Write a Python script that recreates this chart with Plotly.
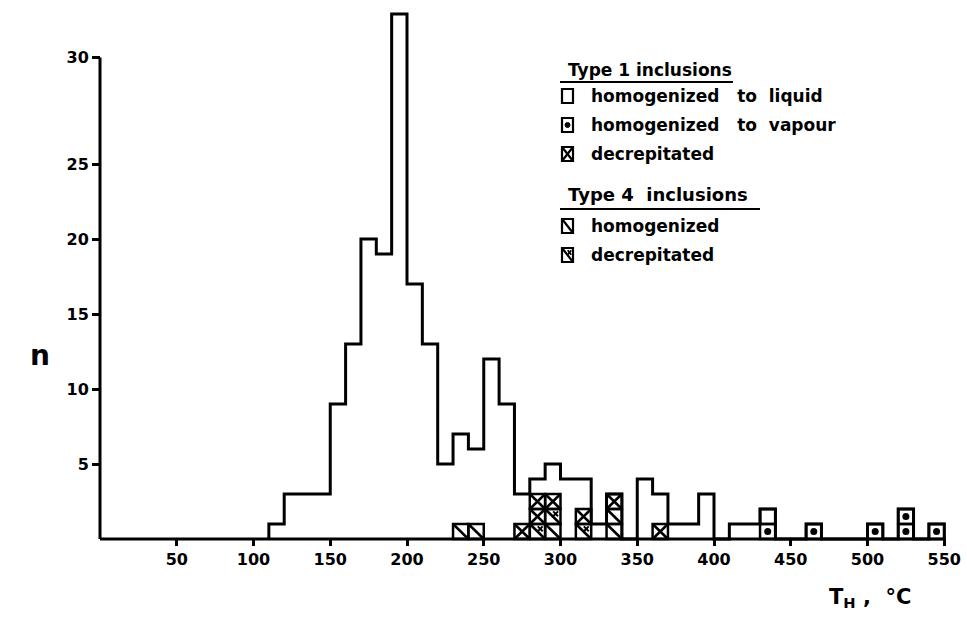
import plotly.graph_objects as go

# ---------------- data ----------------
bin_left = [110, 120, 130, 140, 150, 160, 170, 180, 190, 200, 210, 220, 230, 240,
            250, 260, 270, 280, 290, 300, 310, 320, 330, 340, 350, 360, 370, 380,
            390, 400, 410, 420, 430, 440, 450, 460, 470, 480, 490, 500, 510, 520,
            530, 540]
counts = [1, 3, 3, 3, 9, 13, 20, 19, 35, 17, 13, 5, 7, 6,
          12, 9, 3, 4, 5, 4, 4, 1, 3, 0, 4, 3, 1, 1,
          3, 0, 1, 1, 2, 0, 0, 1, 0, 0, 0, 1, 0, 2,
          0, 1]
bin_width = 10

x_tick_vals = [50, 100, 150, 200, 250, 300, 350, 400, 450, 500, 550]
x_tick_text = ["50", "100", "150", "200", "250", "300", "350", "400", "450", "500", "550"]
y_tick_text = ["5", "10", "15", "20", "25", "30"]
y_tick_pos = [5, 10, 15, 20, 25, 32.1]   # hand-drawn "30" mark sits high

# individual inclusions drawn as boxes (bin left edge, stack level)
t1_liquid_box_bin = [430]
t1_liquid_box_lvl = [1]
t1_vapour_bin = [430, 460, 500, 520, 520, 540]
t1_vapour_lvl = [0, 0, 0, 0, 1, 0]
t1_decrep_bin = [270, 280, 280, 290, 310, 330, 360]
t1_decrep_lvl = [0, 1, 2, 2, 1, 2, 0]
t4_homog_bin = [230, 240, 290, 330, 330]
t4_homog_lvl = [0, 0, 0, 0, 1]
t4_decrep_bin = [280, 290, 310]
t4_decrep_lvl = [0, 1, 0]

legend_head1 = "Type 1 inclusions"
legend_head2 = "Type\u00a04\u00a0\u00a0inclusions"
legend_items = [("liq", "homogenized\u00a0\u00a0\u00a0to\u00a0\u00a0liquid"),
                ("vap", "homogenized\u00a0\u00a0\u00a0to\u00a0\u00a0vapour"),
                ("dec1", "decrepitated"),
                ("hom4", "homogenized"),
                ("dec4", "decrepitated")]

# ---------------- geometry ----------------
W, H = 967, 628
ML, MR, MT, MB = 92, 15, 5, 59
PW, PH = W - ML - MR, H - MT - MB
KX = 1.535      # px per degree
KY = 15.0       # px per count
AX_X, AX_Y = 100, 539   # pixel position of the origin
x0 = -(AX_X - ML) / KX
x1 = x0 + PW / KX
y0 = -((H - MB) - AX_Y) / KY
y1 = y0 + PH / KY


def px_x(p):
    return (p - ML) / PW


def px_y(p):
    return ((H - MB) - p) / PH


INK = "black"
fig = go.Figure()

# histogram outline
ox = [bin_left[0]] + bin_left + [bin_left[-1] + bin_width, bin_left[-1] + bin_width]
oy = [0] + counts + [counts[-1], 0]
fig.add_trace(go.Scatter(x=ox, y=oy, mode="lines", line=dict(color=INK, width=3, shape="hv"),
                         hoverinfo="skip", showlegend=False))

# axis lines
fig.add_trace(go.Scatter(x=[0, 0], y=[0, y_tick_pos[-1]], mode="lines",
                         line=dict(color=INK, width=3), hoverinfo="skip", showlegend=False))
fig.add_trace(go.Scatter(x=[0, x_tick_vals[-1] + 1], y=[0, 0], mode="lines",
                         line=dict(color=INK, width=3), hoverinfo="skip", showlegend=False))

shapes = []
LW = 2.5


def symbol_shapes(kind, xa, xb, ya, yb, xref, yref, lw=LW):
    out = [dict(type="rect", xref=xref, yref=yref, x0=xa, x1=xb, y0=ya, y1=yb,
                line=dict(color=INK, width=lw), layer="above")]
    dx, dy = (xb - xa), (yb - ya)
    if kind == "dec1":
        out.append(dict(type="line", xref=xref, yref=yref, x0=xa, y0=yb, x1=xb, y1=ya,
                        line=dict(color=INK, width=lw)))
        out.append(dict(type="line", xref=xref, yref=yref, x0=xa, y0=ya, x1=xb, y1=yb,
                        line=dict(color=INK, width=lw)))
    elif kind == "hom4":
        out.append(dict(type="line", xref=xref, yref=yref, x0=xa, y0=yb, x1=xb, y1=ya,
                        line=dict(color=INK, width=lw)))
    elif kind == "dec4":
        out.append(dict(type="line", xref=xref, yref=yref, x0=xa, y0=yb, x1=xb, y1=ya,
                        line=dict(color=INK, width=lw)))
        cx, cy = xa + 0.68 * dx, ya + 0.68 * dy
        hx, hy = 0.16 * dx, 0.16 * dy
        out.append(dict(type="line", xref=xref, yref=yref, x0=cx - hx, y0=cy - hy,
                        x1=cx + hx, y1=cy + hy, line=dict(color=INK, width=lw * 0.8)))
        out.append(dict(type="line", xref=xref, yref=yref, x0=cx - hx, y0=cy + hy,
                        x1=cx + hx, y1=cy - hy, line=dict(color=INK, width=lw * 0.8)))
    return out


dot_x, dot_y = [], []
groups = [("liq", t1_liquid_box_bin, t1_liquid_box_lvl),
          ("vap", t1_vapour_bin, t1_vapour_lvl),
          ("dec1", t1_decrep_bin, t1_decrep_lvl),
          ("hom4", t4_homog_bin, t4_homog_lvl),
          ("dec4", t4_decrep_bin, t4_decrep_lvl)]
for kind, bins, lvls in groups:
    for b, lv in zip(bins, lvls):
        shapes += symbol_shapes(kind, b, b + bin_width, lv, lv + 1, "x", "y")
        if kind == "vap":
            dot_x.append(b + bin_width / 2)
            dot_y.append(lv + 0.5)

fig.add_trace(go.Scatter(x=dot_x, y=dot_y, mode="markers",
                         marker=dict(color=INK, size=7), hoverinfo="skip", showlegend=False))

# ---------------- legend (hand-drawn key) ----------------
FONT = "DejaVu Sans"
annotations = []
head_rows = [(legend_head1, 70, 82, 733, 17), (legend_head2, 194, 209, 760, 18)]
for text, yc, yu, xend, fs in head_rows:
    annotations.append(dict(text=text, x=px_x(566), y=px_y(yc), xref="paper", yref="paper",
                            xanchor="left", yanchor="middle", showarrow=False,
                            font=dict(family=FONT, size=fs, color=INK, weight="bold")))
    shapes.append(dict(type="line", xref="paper", yref="paper", x0=px_x(560), x1=px_x(xend),
                       y0=px_y(yu), y1=px_y(yu), line=dict(color=INK, width=2.2)))

row_y = [96, 125, 154, 226, 255]
for (kind, label), yc in zip(legend_items, row_y):
    xa, xb = px_x(562), px_x(573)
    ya, yb = px_y(yc + 7), px_y(yc - 7)
    shapes += symbol_shapes(kind, xa, xb, ya, yb, "paper", "paper", lw=2.2)
    if kind == "vap":
        shapes.append(dict(type="circle", xref="paper", yref="paper",
                           x0=px_x(565), x1=px_x(570), y0=px_y(yc + 2.5), y1=px_y(yc - 2.5),
                           fillcolor=INK, line=dict(color=INK, width=1)))
    annotations.append(dict(text=label, x=px_x(589), y=px_y(yc), xref="paper", yref="paper",
                            xanchor="left", yanchor="middle", showarrow=False,
                            font=dict(family=FONT, size=17, color=INK, weight="bold")))

# axis titles
annotations.append(dict(text="n", x=px_x(40), y=px_y(355), xref="paper", yref="paper",
                        xanchor="center", yanchor="middle", showarrow=False,
                        font=dict(family=FONT, size=28, color=INK, weight="bold")))
annotations.append(dict(text="T<sub>H</sub> ,  °C", x=px_x(870), y=px_y(598), xref="paper",
                        yref="paper", xanchor="center", yanchor="middle", showarrow=False,
                        font=dict(family=FONT, size=21, color=INK, weight="bold")))

tick_font = dict(family=FONT, size=16, color=INK, weight="bold")
fig.update_layout(
    width=W, height=H,
    margin=dict(l=ML, r=MR, t=MT, b=MB, autoexpand=False),
    paper_bgcolor="white", plot_bgcolor="white",
    showlegend=False,
    shapes=shapes,
    annotations=annotations,
    xaxis=dict(range=[x0, x1], anchor="free", position=(0 - y0) / (y1 - y0),
               tickvals=x_tick_vals, ticktext=x_tick_text, ticks="outside", ticklen=6,
               tickwidth=2.5, tickcolor=INK, tickfont=tick_font, showgrid=False,
               zeroline=False, showline=False, fixedrange=True),
    yaxis=dict(range=[y0, y1], anchor="free", position=(0 - x0) / (x1 - x0),
               tickvals=y_tick_pos, ticktext=y_tick_text, ticks="outside", ticklen=8,
               tickwidth=2.5, tickcolor=INK, tickfont=tick_font, showgrid=False,
               zeroline=False, showline=False, fixedrange=True),
)

fig.write_html("out.html", config={"displayModeBar": False},
               post_script="document.body.style.margin='0';document.body.style.overflow='hidden';")
